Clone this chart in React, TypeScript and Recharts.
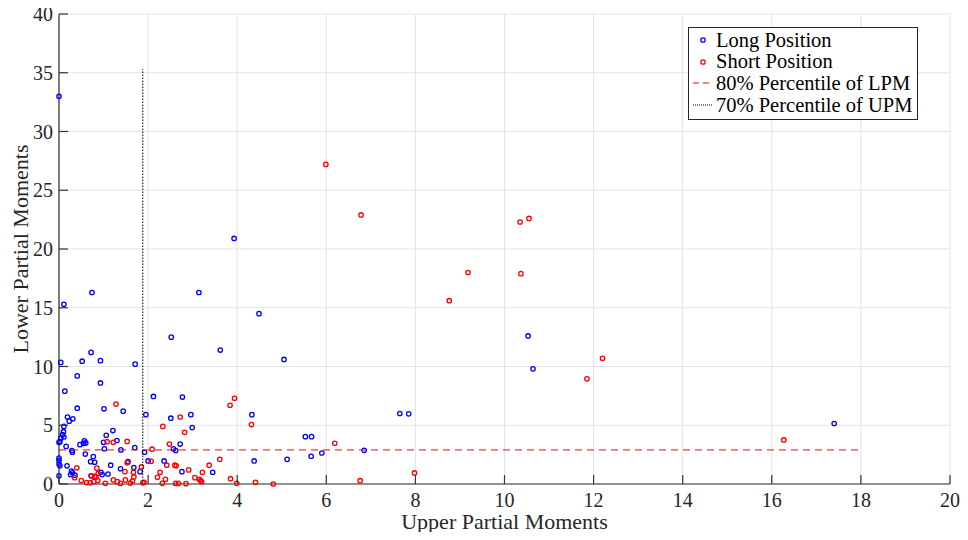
import React from 'react';
import { ScatterChart, Scatter, XAxis, YAxis, CartesianGrid, Label } from 'recharts';

const longPoints: [number, number][] = [
  [0, 33.0], [0.11, 15.3], [0.74, 16.3], [3.93, 20.9], [3.14, 16.3], [4.49, 14.5], [2.52, 12.5], [3.62, 11.4],
  [5.05, 10.6], [10.53, 12.6], [10.64, 9.8], [17.4, 5.15], [7.65, 6.0], [7.85, 5.97], [5.53, 4.03], [5.67, 4.03],
  [5.12, 2.1], [5.66, 2.36], [5.9, 2.64], [6.85, 2.87],
  [2.12, 7.45], [2.77, 7.4], [1.95, 5.9], [2.51, 5.6], [2.96, 5.9], [4.33, 5.9], [2.99, 4.8], [2.72, 3.4],
  [2.57, 3.0], [2.62, 2.85], [1.92, 2.7], [2.0, 1.96], [2.36, 1.96], [4.38, 1.96], [2.76, 1.05], [3.45, 1.0],
  [0.04, 10.35], [0.72, 11.2], [0.52, 10.45], [0.93, 10.5], [1.71, 10.2], [0.41, 9.2], [0.93, 8.6], [0.13, 7.9],
  [0.41, 6.45], [1.01, 6.4], [1.44, 6.2], [0.19, 5.7], [0.31, 5.55], [0.23, 5.35], [0.11, 4.9], [1.21, 4.55],
  [1.06, 4.15], [0.1, 4.45], [0.08, 4.2], [0.11, 4.0], [0.04, 3.9], [0.02, 3.6], [0.0, 3.55], [1.3, 3.7],
  [1.0, 3.55], [0.57, 3.67], [0.6, 3.5], [0.55, 3.45], [0.47, 3.35], [0.16, 3.2], [1.02, 3.0], [1.7, 3.1],
  [0.29, 2.85], [0.3, 2.7], [1.39, 2.9], [0.59, 2.55], [0.77, 2.33], [0.71, 1.9], [0.8, 1.85], [0, 2.2],
  [0, 2.0], [0, 1.7], [0.02, 1.55], [0.18, 1.55], [1.16, 1.6], [1.55, 1.9], [1.38, 1.3], [1.68, 1.4],
  [1.82, 1.05], [0.28, 1.1], [0.3, 0.95], [0.26, 0.8], [0.36, 0.75], [0, 0.7], [0.94, 1.0], [0.97, 0.8],
  [1.1, 0.85], [0.72, 0.7],
];

const shortPoints: [number, number][] = [
  [5.99, 27.2], [6.78, 22.9], [9.18, 18.0], [10.35, 22.3], [10.55, 22.6], [10.37, 17.9], [8.76, 15.6], [12.2, 10.7],
  [11.85, 8.95], [16.27, 3.75], [6.19, 3.47], [4.81, 0.0], [6.76, 0.28], [7.98, 0.94],
  [3.94, 7.3], [3.84, 6.7], [2.72, 5.7], [2.33, 4.9], [4.32, 5.06], [2.82, 4.4], [2.09, 2.96], [2.48, 3.4],
  [2.07, 1.93], [2.42, 1.6], [2.63, 1.55], [2.6, 1.6], [3.61, 2.1], [3.37, 1.6], [2.91, 1.2], [3.22, 1.0],
  [2.27, 1.0], [2.21, 0.57], [2.39, 0.4], [3.05, 0.54], [3.15, 0.4], [3.18, 0.3], [3.2, 0.2], [3.85, 0.45],
  [3.99, 0.06], [4.41, 0.14], [1.91, 0.14], [2.32, 0.06], [2.62, 0.05], [2.68, 0.05], [2.85, 0.03], [1.85, 1.45],
  [1.28, 6.8], [1.08, 3.6], [1.22, 3.55], [1.53, 3.62], [0.4, 1.38], [1.53, 1.8], [0.85, 1.35], [0.35, 0.54],
  [0.5, 0.3], [0.62, 0.12], [0.7, 0.1], [0.83, 0.6], [0.87, 0.3], [1.04, 0.06], [1.22, 0.35], [1.31, 0.2],
  [1.38, 0.05], [1.48, 1.05], [1.49, 0.35], [1.6, 0.08], [1.65, 0.25], [1.68, 0.6], [1.67, 1.0], [1.88, 0.1],
  [0.88, 0.9], [0.78, 0.2], [0.73, 0.7], [0.8, 0.65],
];

const lpmLevel = 2.9;
const lpmExtent: [number, number] = [0, 18];
const upmLevel = 1.88;
const upmExtent: [number, number] = [0, 35.3];

const xTicks = [0, 2, 4, 6, 8, 10, 12, 14, 16, 18, 20];
const yTicks = [0, 5, 10, 15, 20, 25, 30, 35, 40];

const legendLabels = ['Long Position', 'Short Position', '80% Percentile of LPM', '70% Percentile of UPM'];

const FONT = "'Liberation Serif', 'Times New Roman', Times, serif";
const AXIS = '#333333';
const BLUE = '#0000ff';
const RED = '#ff0000';
const txtStyle: React.CSSProperties = { fontFamily: FONT };

const longData = longPoints.map(([x, y]) => ({ x, y }));
const shortData = shortPoints.map(([x, y]) => ({ x, y }));
const lpmData = lpmExtent.map((x) => ({ x, y: lpmLevel }));
const upmData = upmExtent.map((y) => ({ x: upmLevel, y }));

const makeMarker = (color: string) => (props: any) => (
  <circle cx={props.cx} cy={props.cy} r={2.2} fill="none" stroke={color} strokeWidth={1.3} />
);
const noMarker = () => <g />;

const BottomTick = (p: any) => (
  <g>
    <line x1={p.x} x2={p.x} y1={p.y} y2={p.y - 9} stroke={AXIS} strokeWidth={1.2} />
    <text x={p.x} y={p.y + 23} textAnchor="middle" style={txtStyle} fontSize={20} fill="#262626">
      {p.payload.value}
    </text>
  </g>
);
const TopTick = (p: any) => (
  <line x1={p.x} x2={p.x} y1={p.y} y2={p.y + 9} stroke={AXIS} strokeWidth={1.2} />
);
const LeftTick = (p: any) => (
  <g>
    <line x1={p.x} x2={p.x + 9} y1={p.y} y2={p.y} stroke={AXIS} strokeWidth={1.2} />
    <text x={p.x - 6} y={p.y + 7} textAnchor="end" style={txtStyle} fontSize={20} fill="#262626">
      {p.payload.value}
    </text>
  </g>
);
const RightTick = (p: any) => (
  <line x1={p.x} x2={p.x - 9} y1={p.y} y2={p.y} stroke={AXIS} strokeWidth={1.2} />
);

const Legend = () => (
  <svg width={231} height={94} style={{ position: 'absolute', left: 688, top: 27, fontFamily: FONT }}>
    <rect x={0.5} y={0.5} width={229} height={92} fill="#ffffff" stroke="#262626" strokeWidth={1} />
    <circle cx={15} cy={13} r={2.2} fill="none" stroke={BLUE} strokeWidth={1.3} />
    <circle cx={15} cy={35} r={2.2} fill="none" stroke={RED} strokeWidth={1.3} />
    <line x1={5} x2={24} y1={56} y2={56} stroke={RED} strokeWidth={1} strokeDasharray="6 4" />
    <line x1={5} x2={24} y1={78} y2={78} stroke="#000" strokeWidth={1} strokeDasharray="1 1" />
    {legendLabels.map((t, i) => (
      <text key={t} x={28} y={13 + i * 21.7 + 6.5} style={txtStyle} fontSize={20.5} fill="#000">
        {t}
      </text>
    ))}
  </svg>
);

export default function App() {
  return (
    <div style={{ position: 'relative', width: 968, height: 540, margin: -8 }}>
      <ScatterChart width={968} height={540} margin={{ top: 14, right: 18, bottom: 26, left: 0 }}>
        <CartesianGrid stroke="#e3e3e3" strokeWidth={1} />
        <XAxis
          xAxisId={0}
          dataKey="x"
          type="number"
          domain={[0, 20]}
          ticks={xTicks}
          interval={0}
          height={30}
          tickSize={0}
          tickMargin={0}
          tickLine={false}
          axisLine={{ stroke: AXIS, strokeWidth: 1.2 }}
          tick={BottomTick}
        >
          <Label
            content={(lp: any) => {
              const vb = lp.viewBox || {};
              return (
                <text x={vb.x + vb.width / 2} y={vb.y + 45} textAnchor="middle" style={txtStyle} fontSize={22} fill="#262626">
                  Upper Partial Moments
                </text>
              );
            }}
          />
        </XAxis>
        <XAxis
          xAxisId="top"
          orientation="top"
          dataKey="x"
          type="number"
          domain={[0, 20]}
          ticks={xTicks}
          interval={0}
          height={0}
          tickSize={0}
          tickMargin={0}
          tickLine={false}
          axisLine={{ stroke: AXIS, strokeWidth: 1.2 }}
          tick={TopTick}
        />
        <YAxis
          yAxisId={0}
          dataKey="y"
          type="number"
          domain={[0, 40]}
          ticks={yTicks}
          interval={0}
          width={59}
          tickSize={0}
          tickMargin={0}
          tickLine={false}
          axisLine={{ stroke: AXIS, strokeWidth: 1.2 }}
          tick={LeftTick}
        >
          <Label
            content={(lp: any) => {
              const vb = lp.viewBox || {};
              const cx = 20;
              const cy = vb.y + vb.height / 2;
              return (
                <text x={cx} y={cy} transform={`rotate(-90 ${cx} ${cy})`} textAnchor="middle" dominantBaseline="central" style={txtStyle} fontSize={22} fill="#262626">
                  Lower Partial Moments
                </text>
              );
            }}
          />
        </YAxis>
        <YAxis
          yAxisId="right"
          orientation="right"
          dataKey="y"
          type="number"
          domain={[0, 40]}
          ticks={yTicks}
          interval={0}
          width={0}
          tickSize={0}
          tickMargin={0}
          tickLine={false}
          axisLine={{ stroke: AXIS, strokeWidth: 1.2 }}
          tick={RightTick}
        />
        <Scatter name="Long Position" data={longData} shape={makeMarker(BLUE)} isAnimationActive={false} />
        <Scatter name="Short Position" data={shortData} shape={makeMarker(RED)} isAnimationActive={false} />
        <Scatter
          name="80% Percentile of LPM"
          data={lpmData}
          line={{ stroke: RED, strokeWidth: 1, strokeDasharray: '7 5' }}
          shape={noMarker}
          isAnimationActive={false}
        />
        <Scatter
          name="70% Percentile of UPM"
          data={upmData}
          line={{ stroke: '#000', strokeWidth: 1, strokeDasharray: '1.5 1.5' }}
          shape={noMarker}
          isAnimationActive={false}
        />
      </ScatterChart>
      <Legend />
    </div>
  );
}
